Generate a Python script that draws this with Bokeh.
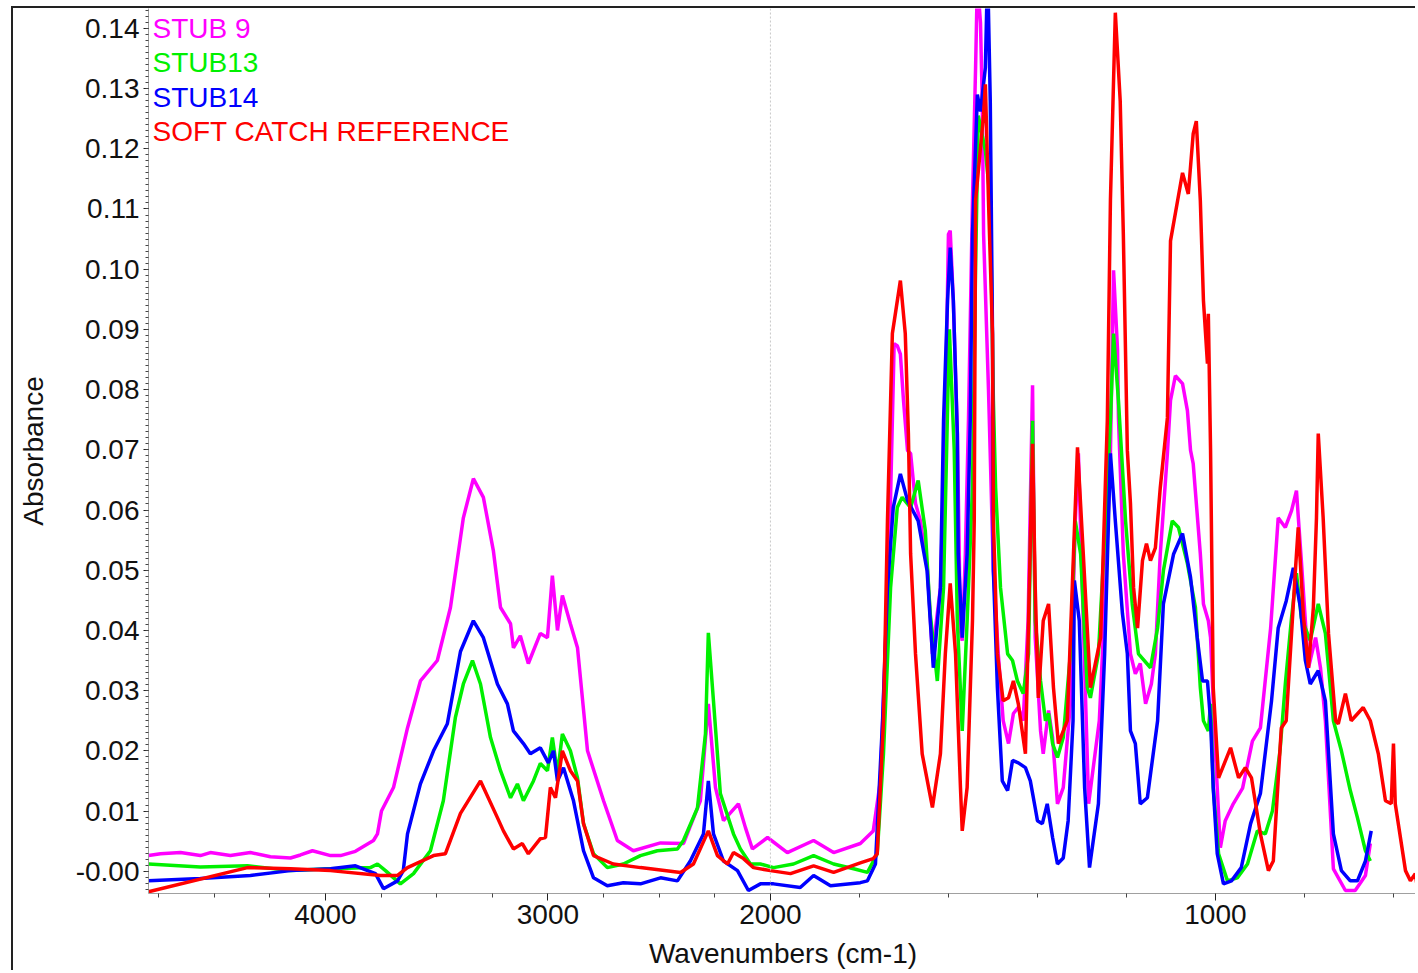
import numpy as np

from bokeh.plotting import figure
from bokeh.models import Range1d, FixedTicker, Span, Label, PrintfTickFormatter
from bokeh.embed import file_html
from bokeh.resources import INLINE

#-------------- spectra (wavenumber cm-1, absorbance) ----------#
stub9_wn = [4795, 4741, 4651, 4562, 4517, 4427, 4337, 4247, 4157, 4112, 4058, 3977, 3932, 3865,
            3784, 3766, 3748, 3694, 3631, 3573, 3497, 3438, 3380, 3335, 3290, 3245, 3213, 3168,
            3155, 3124, 3088, 3034, 3002, 2980, 2957, 2935, 2899, 2867, 2822, 2750, 2688, 2616,
            2494, 2391, 2315, 2279, 2247, 2211, 2144, 2112, 2081, 2013, 1962, 1903, 1858, 1798,
            1769, 1753, 1742, 1733, 1722, 1715, 1708, 1701, 1692, 1685, 1674, 1663, 1647, 1636,
            1618, 1607, 1600, 1596, 1589, 1580, 1573, 1569, 1562, 1555, 1546, 1539, 1535, 1528,
            1524, 1521, 1510, 1499, 1488, 1477, 1465, 1454, 1443, 1432, 1421, 1411, 1405, 1393,
            1387, 1375, 1366, 1355, 1342, 1326, 1315, 1308, 1297, 1285, 1261, 1247, 1236, 1229,
            1220, 1218, 1207, 1191, 1180, 1169, 1157, 1144, 1135, 1124, 1108, 1101, 1090, 1074,
            1063, 1056, 1050, 1034, 1027, 1016, 1011, 1000, 989, 978, 960, 939, 917, 899, 876,
            859, 843, 829, 818, 807, 791, 775, 764, 753, 735, 708, 686, 663, 652]
stub9_abs = [0.0026, 0.0029, 0.0031, 0.0026, 0.0031, 0.0026, 0.0031, 0.0024, 0.0022, 0.0027, 0.0034, 0.0026, 0.0026, 0.0033,
             0.0051, 0.0062, 0.0100, 0.0139, 0.0238, 0.0316, 0.0350, 0.0438, 0.0587, 0.0652, 0.0621, 0.0532, 0.0438, 0.0411,
             0.0371, 0.0391, 0.0345, 0.0395, 0.0388, 0.0491, 0.0400, 0.0458, 0.0411, 0.0371, 0.0200, 0.0117, 0.0051, 0.0034,
             0.0047, 0.0046, 0.0117, 0.0278, 0.0139, 0.0084, 0.0112, 0.0072, 0.0037, 0.0056, 0.0031, 0.0051, 0.0031, 0.0046,
             0.0067, 0.0150, 0.0361, 0.0527, 0.0876, 0.0873, 0.0859, 0.0782, 0.0699, 0.0694, 0.0611, 0.0582, 0.0499, 0.0361,
             0.0471, 0.0748, 0.1058, 0.1064, 0.0948, 0.0727, 0.0400, 0.0383, 0.0527, 0.0748, 0.1114, 0.1335, 0.1480, 0.1409,
             0.1279, 0.1058, 0.0800, 0.0499, 0.0361, 0.0250, 0.0212, 0.0262, 0.0272, 0.0250, 0.0416, 0.0807, 0.0388, 0.0233,
             0.0195, 0.0267, 0.0222, 0.0112, 0.0139, 0.0278, 0.0582, 0.0694, 0.0416, 0.0112, 0.0250, 0.0471, 0.0694, 0.0998,
             0.0865, 0.0753, 0.0527, 0.0361, 0.0328, 0.0345, 0.0278, 0.0311, 0.0361, 0.0527, 0.0694, 0.0782, 0.0823, 0.0810,
             0.0765, 0.0699, 0.0677, 0.0527, 0.0444, 0.0416, 0.0388, 0.0195, 0.0039, 0.0084, 0.0112, 0.0138, 0.0216, 0.0238, 0.0404,
             0.0587, 0.0571, 0.0599, 0.0632, 0.0516, 0.0338, 0.0388, 0.0338, 0.0250, 0.0004, -0.0032, -0.0032, -0.0007, 0.0046]

stub13_wn = [4795, 4562, 4350, 4157, 3977, 3798, 3766, 3730, 3663, 3604, 3528, 3470, 3416, 3380,
             3339, 3303, 3258, 3213, 3168, 3137, 3110, 3065, 3034, 3002, 2980, 2957, 2935, 2899,
             2867, 2840, 2795, 2733, 2661, 2584, 2508, 2418, 2391, 2328, 2292, 2279, 2256, 2225,
             2166, 2135, 2090, 2045, 1993, 1948, 1903, 1858, 1813, 1782, 1760, 1746, 1730, 1715,
             1704, 1685, 1668, 1652, 1641, 1625, 1611, 1598, 1587, 1580, 1569, 1558, 1546, 1539,
             1533, 1517, 1506, 1499, 1494, 1483, 1467, 1456, 1445, 1432, 1420, 1411, 1405, 1393,
             1382, 1375, 1366, 1355, 1342, 1326, 1315, 1303, 1288, 1281, 1263, 1247, 1236, 1229,
             1218, 1202, 1187, 1173, 1146, 1130, 1117, 1097, 1083, 1063, 1045, 1034, 1027, 1016,
             1011, 1005, 993, 973, 951, 928, 906, 888, 872, 855, 843, 829, 818, 807, 787, 769,
             753, 735, 717, 697, 681, 663, 652]
stub13_abs = [0.0012, 0.0007, 0.0009, 0.0001, 0.0004, 0.0006, 0.0012, 0.0001, -0.0021, -0.0004, 0.0034, 0.0117, 0.0255, 0.0311,
              0.0350, 0.0311, 0.0222, 0.0167, 0.0122, 0.0145, 0.0117, 0.0150, 0.0179, 0.0167, 0.0222, 0.0162, 0.0228, 0.0200,
              0.0155, 0.0079, 0.0029, 0.0006, 0.0012, 0.0026, 0.0034, 0.0037, 0.0051, 0.0105, 0.0228, 0.0396, 0.0283, 0.0129,
              0.0062, 0.0037, 0.0012, 0.0012, 0.0006, 0.0012, 0.0026, 0.0012, 0.0004, -0.0002, 0.0029, 0.0195, 0.0471, 0.0604,
              0.0621, 0.0604, 0.0649, 0.0566, 0.0428, 0.0316, 0.0471, 0.0900, 0.0700, 0.0416, 0.0233, 0.0416, 0.0637, 0.1003,
              0.1255, 0.1197, 0.1114, 0.0782, 0.0637, 0.0471, 0.0361, 0.0350, 0.0316, 0.0295, 0.0361, 0.0748, 0.0416, 0.0316,
              0.0250, 0.0262, 0.0212, 0.0189, 0.0222, 0.0361, 0.0582, 0.0527, 0.0305, 0.0288, 0.0361, 0.0582, 0.0748, 0.0893,
              0.0782, 0.0582, 0.0444, 0.0361, 0.0338, 0.0404, 0.0499, 0.0582, 0.0571, 0.0511, 0.0438, 0.0305, 0.0250, 0.0233,
              0.0278, 0.0139, 0.0029, -0.0016, -0.0011, 0.0012, 0.0067, 0.0062, 0.0100, 0.0200, 0.0311, 0.0421, 0.0495, 0.0421, 0.0383, 0.0444,
              0.0395, 0.0250, 0.0200, 0.0134, 0.0089, 0.0034, 0.0017]

stub14_wn = [4795, 4562, 4337, 4157, 3977, 3865, 3775, 3739, 3676, 3650, 3631, 3573, 3514, 3452,
             3393, 3335, 3290, 3227, 3182, 3155, 3110, 3079, 3034, 2998, 2975, 2957, 2930, 2885,
             2840, 2795, 2733, 2661, 2584, 2494, 2418, 2360, 2301, 2279, 2256, 2211, 2148, 2099,
             2045, 1993, 1933, 1903, 1865, 1798, 1782, 1764, 1748, 1737, 1724, 1708, 1692, 1668,
             1648, 1634, 1618, 1611, 1602, 1596, 1589, 1580, 1578, 1569, 1558, 1551, 1546, 1535,
             1528, 1517, 1512, 1506, 1501, 1499, 1490, 1479, 1467, 1456, 1443, 1427, 1416, 1405,
             1400, 1389, 1378, 1366, 1355, 1342, 1331, 1320, 1317, 1306, 1294, 1283, 1263, 1249,
             1236, 1225, 1209, 1198, 1191, 1180, 1169, 1153, 1130, 1117, 1094, 1074, 1056, 1041,
             1029, 1018, 1011, 1005, 996, 982, 964, 942, 921, 899, 874, 859, 841, 825, 809, 798,
             787, 769, 753, 735, 717, 697, 681, 663, 650]
stub14_abs = [-0.0016, -0.0012, -0.0007, 0.0001, 0.0004, 0.0009, -0.0004, -0.0029, -0.0016, 0.0001, 0.0062, 0.0145, 0.0200, 0.0245,
              0.0365, 0.0416, 0.0388, 0.0311, 0.0278, 0.0233, 0.0212, 0.0195, 0.0205, 0.0180, 0.0200, 0.0150, 0.0172, 0.0117,
              0.0034, -0.0011, -0.0024, -0.0019, -0.0021, -0.0011, -0.0016, 0.0017, 0.0062, 0.0150, 0.0062, 0.0017, 0.0001, -0.0032,
              -0.0021, -0.0021, -0.0027, -0.0007, -0.0024, -0.0019, -0.0016, 0.0012, 0.0250, 0.0471, 0.0604, 0.0660, 0.0616, 0.0582,
              0.0499, 0.0338, 0.0471, 0.0748, 0.0948, 0.1036, 0.0948, 0.0727, 0.0527, 0.0388, 0.0527, 0.0748, 0.1058, 0.1290,
              0.1262, 0.1335, 0.1500, 0.1279, 0.0893, 0.0499, 0.0305, 0.0150, 0.0134, 0.0184, 0.0180, 0.0172, 0.0150, 0.0105,
              0.0084, 0.0079, 0.0112, 0.0056, 0.0012, 0.0022, 0.0084, 0.0250, 0.0483, 0.0416, 0.0139, 0.0006, 0.0112, 0.0361,
              0.0694, 0.0582, 0.0428, 0.0361, 0.0233, 0.0212, 0.0112, 0.0122, 0.0250, 0.0444, 0.0527, 0.0561, 0.0488, 0.0388,
              0.0316, 0.0316, 0.0250, 0.0139, 0.0029, -0.0021, -0.0016, 0.0006, 0.0079, 0.0129, 0.0283, 0.0404, 0.0449, 0.0504, 0.0438, 0.0350,
              0.0311, 0.0333, 0.0283, 0.0062, 0.0001, -0.0016, -0.0016, 0.0017, 0.0067]

ref_wn = [4795, 4350, 4157, 3977, 3753, 3676, 3631, 3514, 3461, 3393, 3303, 3227, 3200, 3155,
          3115, 3088, 3034, 3011, 2989, 2966, 2935, 2899, 2867, 2840, 2795, 2706, 2584, 2404,
          2346, 2279, 2238, 2193, 2166, 2121, 2076, 2000, 1955, 1903, 1858, 1798, 1769, 1760,
          1746, 1737, 1726, 1708, 1697, 1690, 1685, 1674, 1659, 1636, 1618, 1607, 1596, 1584,
          1573, 1569, 1558, 1546, 1542, 1539, 1521, 1517, 1510, 1501, 1499, 1490, 1477, 1465,
          1454, 1443, 1427, 1420, 1411, 1405, 1398, 1387, 1375, 1364, 1353, 1333, 1319, 1310,
          1297, 1281, 1258, 1243, 1236, 1225, 1214, 1207, 1198, 1191, 1184, 1175, 1164, 1155,
          1146, 1135, 1124, 1108, 1101, 1085, 1074, 1061, 1050, 1043, 1034, 1027, 1018, 1016,
          1011, 1005, 993, 966, 948, 933, 919, 899, 881, 870, 852, 841, 820, 814, 802, 791,
          780, 773, 769, 758, 746, 730, 724, 708, 695, 668, 652, 634, 618, 605, 600, 596,
          573, 562, 551, 544]
ref_abs = [-0.0034, 0.0006, 0.0004, 0.0001, -0.0007, -0.0007, 0.0006, 0.0026, 0.0029, 0.0096, 0.0150, 0.0089, 0.0067, 0.0037,
           0.0046, 0.0029, 0.0054, 0.0056, 0.0139, 0.0122, 0.0200, 0.0167, 0.0150, 0.0079, 0.0026, 0.0012, 0.0006, -0.0002,
           0.0012, 0.0067, 0.0026, 0.0012, 0.0031, 0.0021, 0.0006, 0.0001, -0.0004, 0.0009, -0.0002, 0.0014, 0.0021, 0.0029,
           0.0250, 0.0582, 0.0893, 0.0981, 0.0893, 0.0727, 0.0527, 0.0361, 0.0195, 0.0106, 0.0195, 0.0361, 0.0478, 0.0361,
           0.0139, 0.0067, 0.0139, 0.0416, 0.0582, 0.1114, 0.1257, 0.1307, 0.1114, 0.0893, 0.0582, 0.0361, 0.0283, 0.0288,
           0.0316, 0.0278, 0.0195, 0.0416, 0.0710, 0.0471, 0.0288, 0.0416, 0.0444, 0.0305, 0.0212, 0.0250, 0.0527, 0.0704,
           0.0527, 0.0305, 0.0388, 0.0748, 0.1114, 0.1426, 0.1279, 0.1058, 0.0699, 0.0611, 0.0471, 0.0404, 0.0516, 0.0544,
           0.0516, 0.0537, 0.0637, 0.0753, 0.1047, 0.1114, 0.1160, 0.1125, 0.1225, 0.1246, 0.1114, 0.0948, 0.0843, 0.0926,
           0.0699, 0.0305, 0.0155, 0.0205, 0.0155, 0.0172, 0.0155, 0.0062, 0.0001, 0.0017, 0.0238, 0.0250, 0.0504, 0.0571, 0.0421, 0.0338,
           0.0438, 0.0587, 0.0727, 0.0587, 0.0395, 0.0250, 0.0245, 0.0295, 0.0250, 0.0272, 0.0250, 0.0195, 0.0117, 0.0112, 0.0212, 0.0112,
           0.0001, -0.0016, -0.0004, -0.0038]

series = [(stub9_wn, stub9_abs, "#ff00ff", "STUB 9"),
          (stub13_wn, stub13_abs, "#00f000", "STUB13"),
          (stub14_wn, stub14_abs, "#0000ff", "STUB14"),
          (ref_wn, ref_abs, "#ff0000", "SOFT CATCH REFERENCE")]

x_major = [4000, 3000, 2000, 1000]
x_minor = [4750, 4500, 4250, 3750, 3500, 3250, 2750, 2500, 2250, 1800, 1600, 1400, 1200, 800, 600]
y_major = [round(0.01 * i, 2) for i in range(15)]
#-------------------------------------#

FONT = "Liberation Sans"


def axis_pos(wn):
    # the axis is compressed above 2000 cm-1: below 2000 one unit counts double
    wn = np.asarray(wn, dtype=float)
    return np.where(wn >= 2000, wn, 2 * wn - 2000)


p = figure(width=1404, height=964, output_backend="svg", toolbar_location=None,
           x_range=Range1d(4795, float(axis_pos(546))), y_range=Range1d(-0.0037, 0.1433),
           min_border_left=135, min_border_right=0, min_border_top=0, min_border_bottom=79,
           x_axis_label="Wavenumbers (cm-1)", y_axis_label="Absorbance")
p.styles = {"margin-left": "11px", "margin-top": "6px",
            "border-left": "2px solid #222", "border-top": "2px solid #222"}
p.outline_line_color = None
p.xgrid.visible = False
p.ygrid.visible = False

p.add_layout(Span(location=2000, dimension="height", line_color="#c8c8c8", line_dash="2 2", line_width=1))

for wn, ab, col, name in series:
    p.line(axis_pos(wn), ab, line_color=col, line_width=3.5)

# legend: coloured names only, no swatches
for i, (wn, ab, col, name) in enumerate(series):
    p.add_layout(Label(x=4777, y=0.1400 - i * 0.0057, text=name, text_color=col,
                       text_font=FONT, text_font_size="28px", text_baseline="middle"))

#------------- axes ------------#
p.xaxis.ticker = FixedTicker(ticks=list(axis_pos(x_major)), minor_ticks=list(axis_pos(x_minor)))
p.xaxis.major_label_overrides = {float(axis_pos(w)): str(w) for w in x_major}
p.yaxis.ticker = FixedTicker(ticks=y_major, minor_ticks=list(np.round(np.arange(-0.003, 0.1431, 0.001), 3)))
p.yaxis.formatter = PrintfTickFormatter(format="%.2f")
p.yaxis.major_label_overrides = {0: "-0.00"}

for ax in (p.xaxis[0], p.yaxis[0]):
    ax.axis_line_color = "#a0a0a0"
    ax.major_tick_line_color = "#222222"
    ax.minor_tick_line_color = "#444444"
    ax.major_tick_in = 0
    ax.minor_tick_in = 0
    ax.major_label_text_font = FONT
    ax.major_label_text_font_size = "28px"
    ax.major_label_text_color = "#111111"
    ax.axis_label_text_font = FONT
    ax.axis_label_text_font_size = "28px"
    ax.axis_label_text_font_style = "normal"
    ax.axis_label_text_color = "#111111"

p.xaxis.major_tick_out = 7
p.xaxis.minor_tick_out = 4
p.xaxis.major_label_standoff = 4
p.xaxis.axis_label_standoff = 11
p.yaxis.major_tick_out = 5
p.yaxis.minor_tick_out = 3
p.yaxis.major_label_standoff = 4
p.yaxis.axis_label_standoff = 24

open("out.html", "w").write(file_html(p, INLINE))
